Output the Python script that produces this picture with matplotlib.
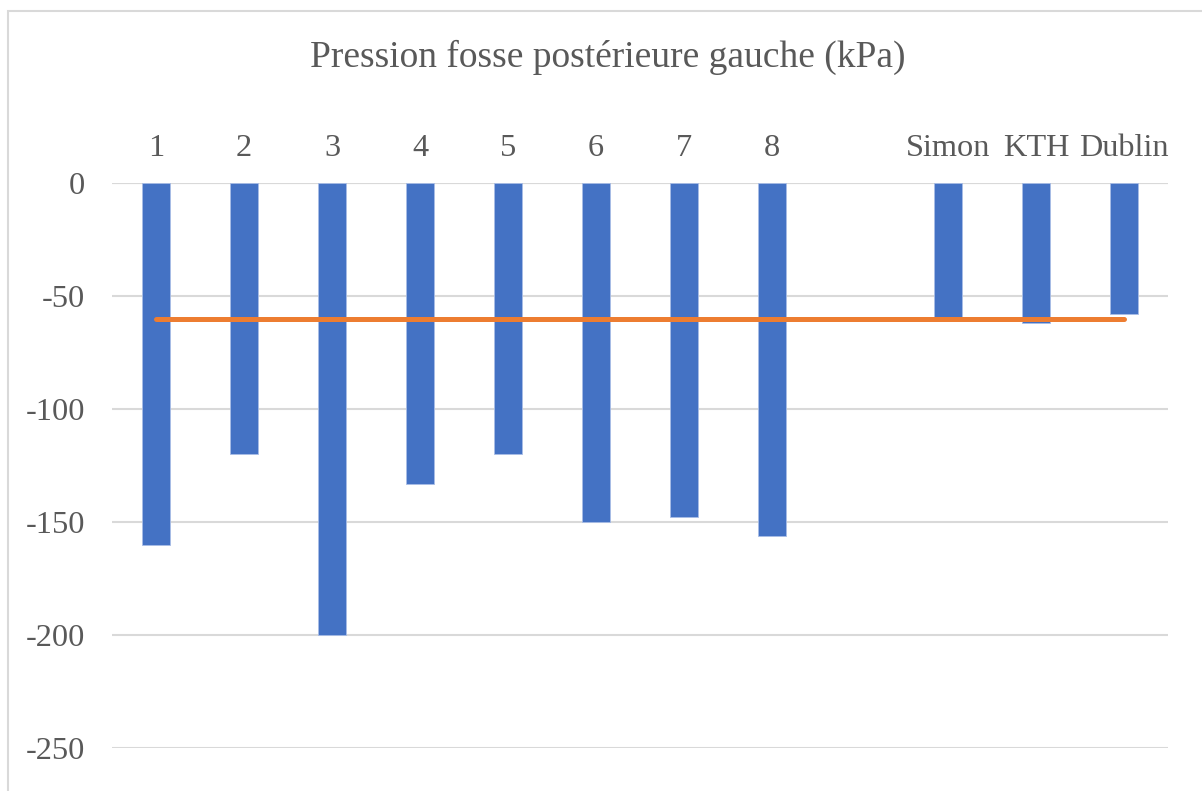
import numpy as np
import matplotlib
matplotlib.use("Agg")
import matplotlib.pyplot as plt
from matplotlib.patches import Rectangle

plt.rcParams['font.family'] = ['Liberation Serif', 'DejaVu Serif']

# left posterior fossa pressure per case, with the reference models
labels = ['1', '2', '3', '4', '5', '6', '7', '8', '', 'Simon', 'KTH', 'Dublin']
pressure = [-160, -120, -200, -133, -120, -150, -148, -156, np.nan, -60, -62, -58]
threshold = [-60] * len(labels)

W, H = 1202, 791
fig = plt.figure(figsize=(W / 100, H / 100), dpi=100)

# light chart border
fig.patches.append(Rectangle((8 / W, -0.1), 1.2, 1.1 - 11 / H, transform=fig.transFigure,
                             fill=False, edgecolor='#d9d9d9', linewidth=1.5))

ax = fig.add_axes([112 / W, 1 - 748 / H, 1056 / W, (748 - 183) / H])
x = np.arange(len(labels))

ax.bar(x, pressure, width=0.31, color='#4472C4', edgecolor='#a9bde6', linewidth=0.6, zorder=2)
ax.plot(x, threshold, color='#ED7D31', linewidth=3.6, solid_capstyle='round', zorder=3)

ax.set_xlim(-0.5, len(labels) - 0.5)
ax.set_ylim(-250, 0)
ax.set_yticks([0, -50, -100, -150, -200, -250])
ax.set_yticklabels(['0', '-50', '-100', '-150', '-200', '-250'])
ax.xaxis.tick_top()
ax.set_xticks(x)
ax.set_xticklabels(labels)

ax.tick_params(axis='both', length=0, labelsize=23.3, labelcolor='#595959')
ax.tick_params(axis='y', pad=19.5)
ax.tick_params(axis='x', pad=14.5)

ax.grid(axis='y', color='#d9d9d9', linewidth=1.5, zorder=0)
ax.set_axisbelow(True)
for s in ax.spines.values():
    s.set_visible(False)
ax.axhline(0, color='#d9d9d9', linewidth=1.5, zorder=1)

fig.text(608 / W, 1 - 57 / H, 'Pression fosse postérieure gauche (kPa)',
         ha='center', va='center', fontsize=27, color='#595959')

fig.savefig('out.png', dpi=100)
